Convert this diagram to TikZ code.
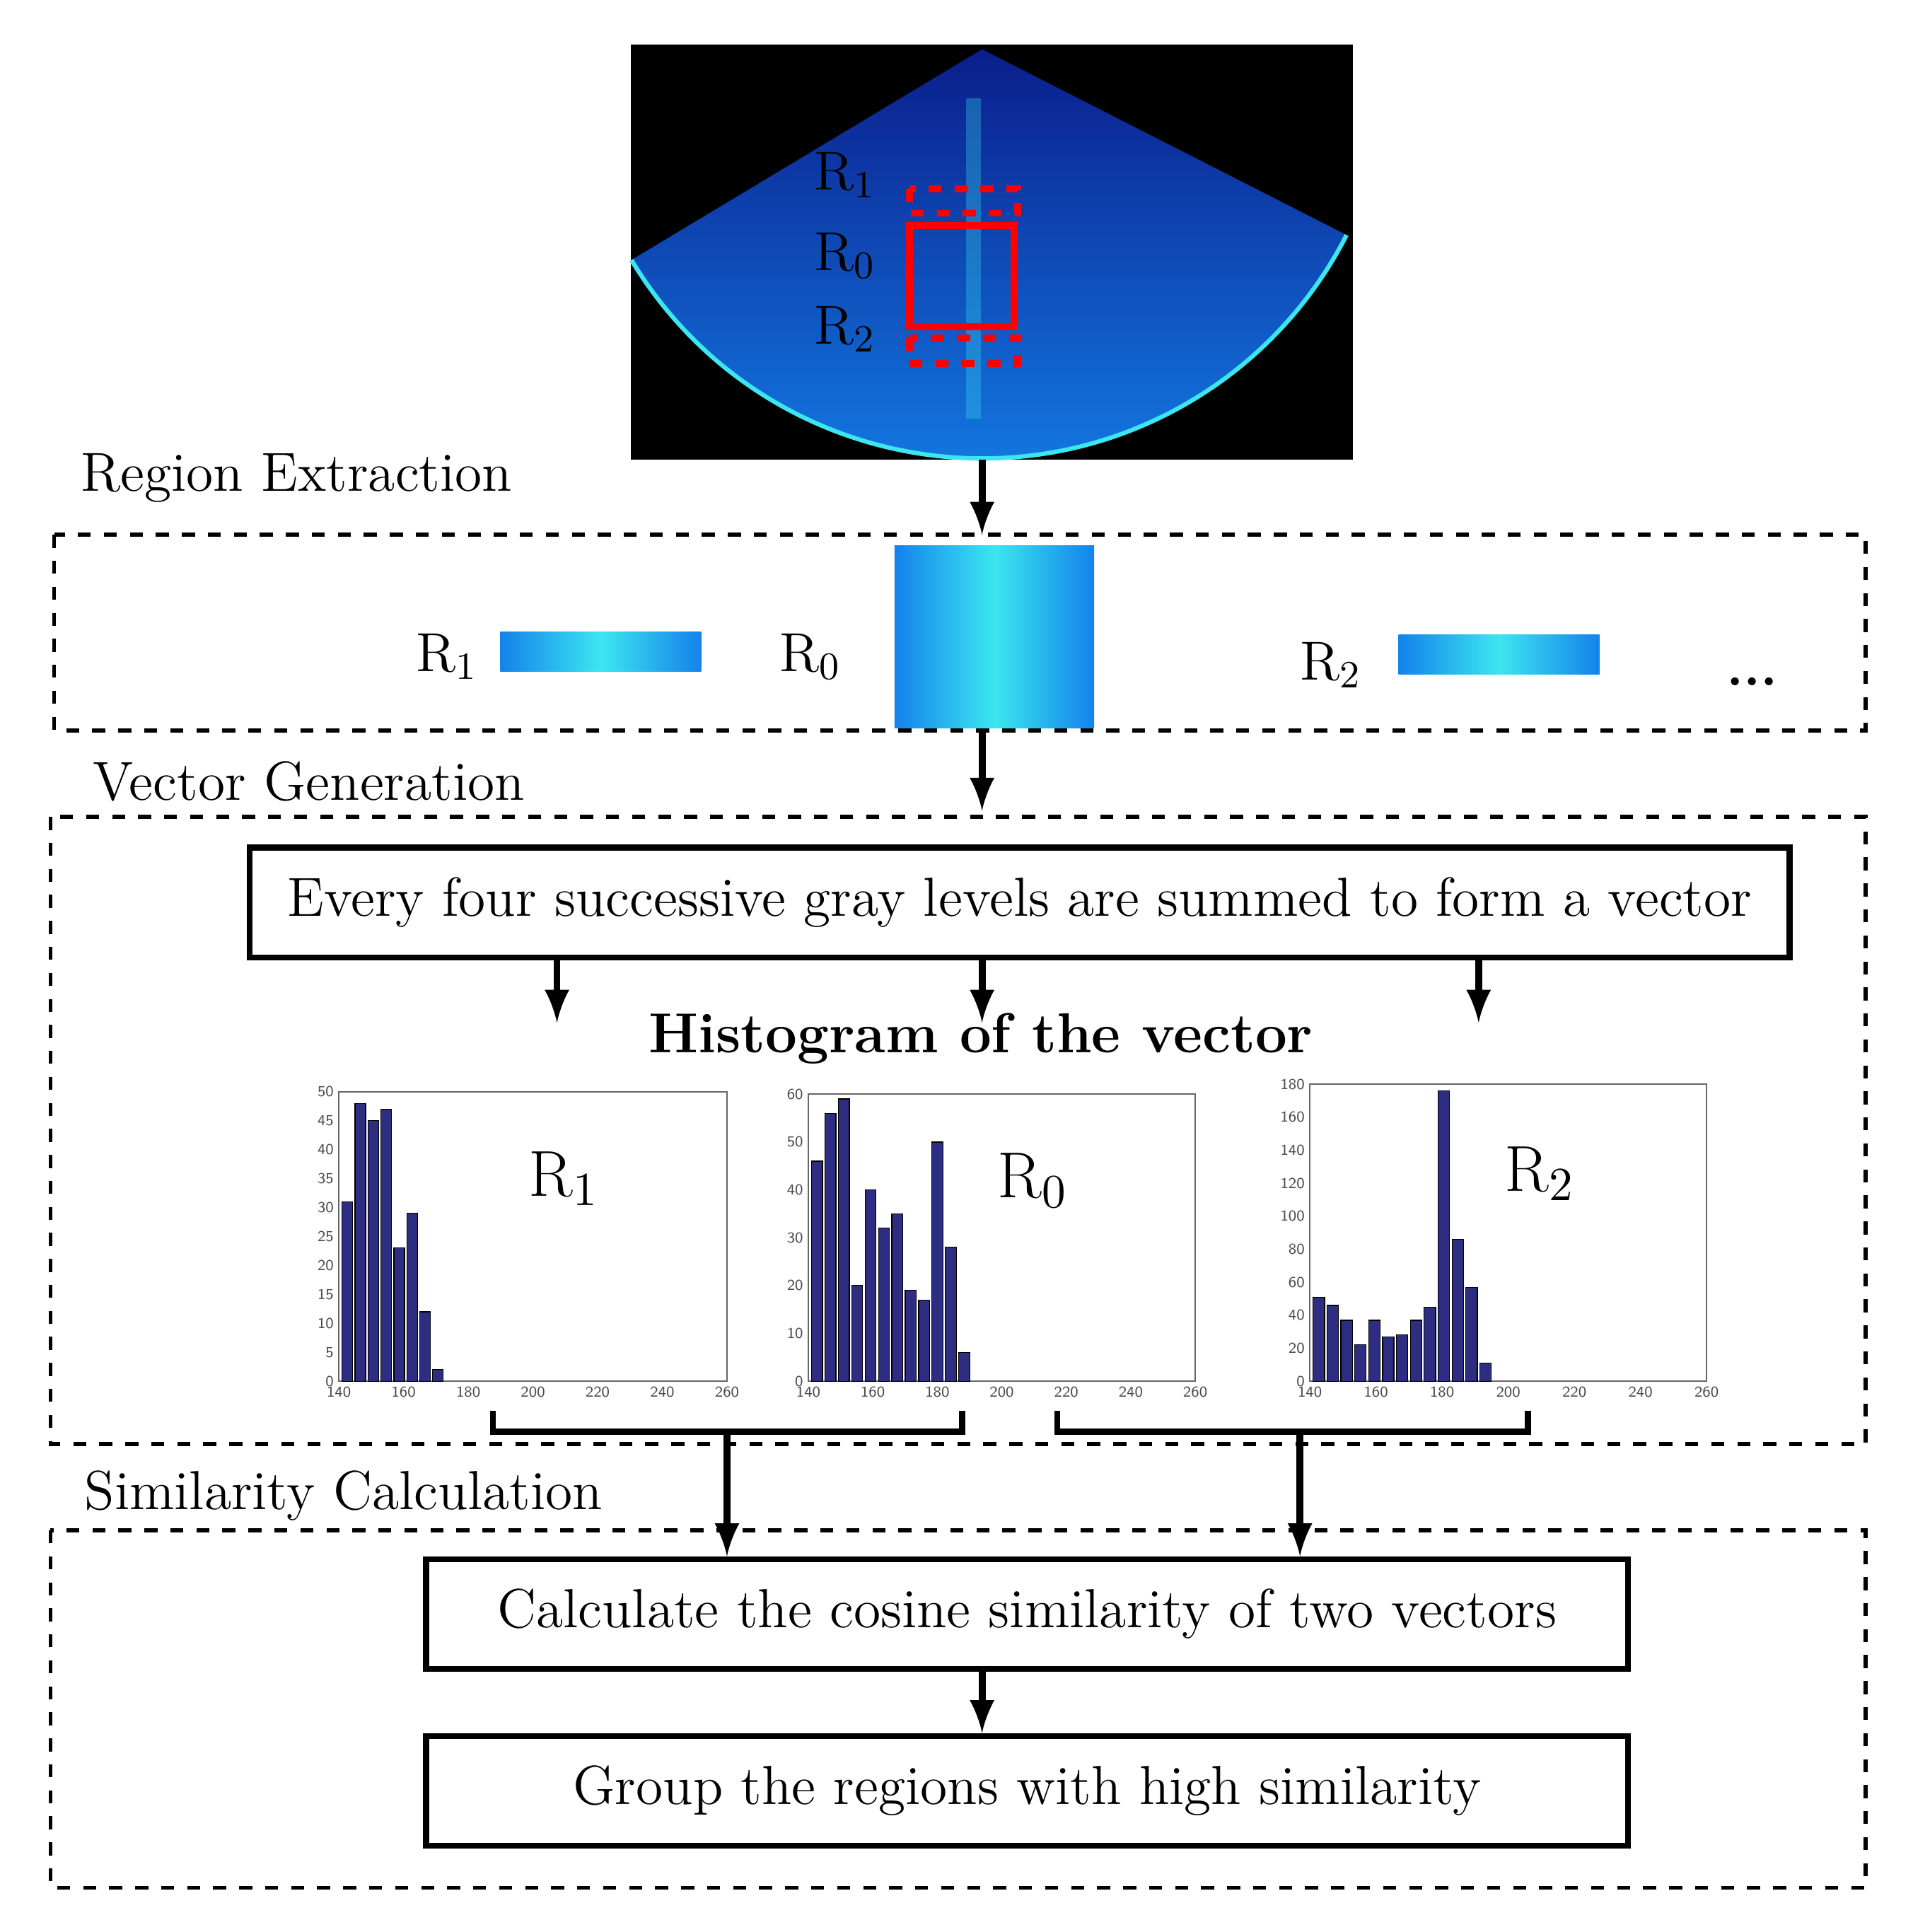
\documentclass[tikz,border=0pt]{standalone}
\usetikzlibrary{positioning}
\definecolor{sonar}{RGB}{20,130,235}
\definecolor{sonardark}{RGB}{10,30,140}
\definecolor{sonarlight}{RGB}{60,230,240}
\definecolor{barblue}{RGB}{45,45,130}
\tikzset{
  lbl/.style={font=\fontsize{12.7}{15}\selectfont, inner sep=0pt},
  stage/.style={draw, line width=1.4pt, minimum height=0.89cm, font=\fontsize{12.7}{15}\selectfont},
  frame/.style={draw, dashed, line width=0.9pt},
  flow/.style={-latex, line width=1.6pt},
  strip/.style={left color=sonar, right color=sonar, middle color=sonarlight},
  axtick/.style={font=\fontsize{3.5}{4}\selectfont\sffamily, inner sep=1pt, text=black!70},
  bar/.style={fill=barblue, draw=black, line width=0.2pt}
}
% histogram: name, x0, y0 (bottom left), width, height, ymax, ystep, bar width, bars
\newcommand{\histo}[9]{
  \begin{scope}[shift={(#2,#3)}]
    \pgfmathsetmacro{\hx}{#4/120}
    \pgfmathsetmacro{\hy}{#5/#6}
    \draw[line width=0.3pt, draw=black!60] (0,0) rectangle (#4,-#5);
    \foreach \t in {140,160,...,260}
      \node[axtick, below] at ({(\t-140)*\hx},0) {\t};
    \foreach \t in {0,#7,...,#6}
      \node[axtick, left] at (0,{-\t*\hy}) {\t};
    \foreach \v [count=\i from 0] in {#9}
      \draw[bar] ({(1+\i*#8)*\hx},0) rectangle ({(1+\i*#8+0.82*#8)*\hx},{-\v*\hy});
    \node[lbl, font=\fontsize{15}{18}\selectfont] at ({0.58*#4},{-0.7*#5}) {#1};
  \end{scope}
}
\begin{document}
\begin{tikzpicture}[x=0.01cm, y=-0.01cm]
\useasboundingbox (0,0) rectangle (1552,1568);

% sonar image
\fill[black] (512,36) rectangle (1098,373);
\coordinate (apex) at (797,40);
\shade[top color=sonardark, bottom color=sonar] (apex) -- ++(149:332) arc (149:27:332) -- cycle;
\draw[sonarlight, line width=1pt] (apex) ++(149:332) arc (149:27:332);
\fill[sonarlight, opacity=0.3] (784,80) rectangle (796,340);
\draw[red, dashed, line width=1.6pt] (738,153) rectangle (826,173);
\draw[red, line width=1.6pt] (738,183) rectangle (823,265);
\draw[red, dashed, line width=1.6pt] (738,274) rectangle (826,295);
\node[lbl] at (686,142) {R\textsubscript{1}};
\node[lbl] at (686,208) {R\textsubscript{0}};
\node[lbl] at (686,267) {R\textsubscript{2}};
\coordinate (img) at (797,373);

% region extraction
\node[lbl, anchor=west] at (65,388) {Region Extraction};
\draw[frame] (44,434) rectangle (1514,593);
\coordinate (regtop) at (797,434);
\shade[strip] (406,513) rectangle (569,545);
\shade[strip] (726,443) rectangle (888,591);
\shade[strip] (1135,515) rectangle (1298,547);
\node[lbl] at (363,533) {R\textsubscript{1}};
\node[lbl] at (658,533) {R\textsubscript{0}};
\node[lbl] at (1080,540) {R\textsubscript{2}};
\node[lbl] at (1422,553) {\textbf{...}};
\coordinate (regbot) at (797,593);
\draw[flow] (img) -- (regtop);

% vector generation
\node[lbl, anchor=west] at (75,634) {Vector Generation};
\draw[frame] (41,663) rectangle (1514,1172);
\coordinate (vectop) at (797,658);
\draw[flow] (regbot) -- (vectop);
\node[stage, minimum width=12.49cm] (sum) at (827.5,732.5) {Every four successive gray levels are summed to form a vector};
\coordinate (ha) at (452,830);
\coordinate (hb) at (797,830);
\coordinate (hc) at (1200,830);
\draw[flow] (sum.south -| ha) -- (ha);
\draw[flow] (sum.south -| hb) -- (hb);
\draw[flow] (sum.south -| hc) -- (hc);
\node[lbl, font=\fontsize{13}{15}\selectfont\bfseries] at (796,843) {Histogram of the vector};
\histo{R$_1$}{275}{1121}{315}{235}{50}{5}{4}{31,48,45,47,23,29,12,2}
\histo{R$_0$}{656}{1121}{314}{233}{60}{10}{4.15}{46,56,59,20,40,32,35,19,17,50,28,6}
\histo{R$_2$}{1063}{1121}{322}{241}{180}{20}{4.2}{51,46,37,22,37,27,28,37,45,176,86,57,11}
\draw[line width=1.4pt] (400,1145) -- (400,1162) -- (781,1162) -- (781,1145);
\draw[line width=1.4pt] (858,1145) -- (858,1162) -- (1240,1162) -- (1240,1145);
\coordinate (pa) at (590,1162);
\coordinate (pb) at (1055,1162);

% similarity calculation
\node[lbl, anchor=west] at (68,1214) {Similarity Calculation};
\draw[frame] (41,1242) rectangle (1514,1532);
\node[stage, minimum width=9.75cm] (cos) at (833.5,1310) {Calculate the cosine similarity of two vectors};
\node[stage, minimum width=9.75cm] (grp) at (833.5,1453.5) {Group the regions with high similarity};
\draw[flow] (pa) -- (pa |- cos.north);
\draw[flow] (pb) -- (pb |- cos.north);
\draw[flow] (cos.south -| hb) -- (grp.north -| hb);
\end{tikzpicture}
\end{document}
